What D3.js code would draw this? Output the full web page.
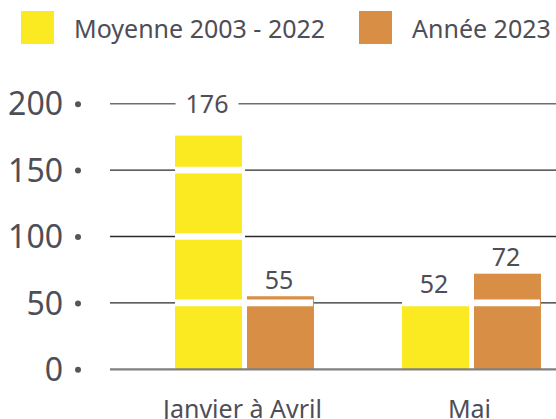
<!DOCTYPE html>
<html>
<head>
<meta charset="utf-8">
<script src="https://cdn.jsdelivr.net/npm/d3@7"></script>
<style>
    body { margin: 0; background: #fff; }
    text { font-family: "Noto Sans", sans-serif; fill: #4e4e57; }
</style>
</head>
<body>
<div id="chart"></div>
<script>
// Chart data
let categories = ["Janvier à Avril", "Mai"];
let series = ["Moyenne 2003 - 2022", "Année 2023"];
let moyenneValues = [176, 52];
let anneeValues = [55, 72];
let yTicks = [0, 50, 100, 150, 200];

let colors = ["#fbe921", "#d88e45"];

let data = categories.map((c, i) => ({
    category: c,
    values: [
        {key: series[0], value: moyenneValues[i]},
        {key: series[1], value: anneeValues[i]}
    ]
}));

let width = 556, height = 419;

let svg = d3.select("#chart").append("svg")
    .attr("width", width)
    .attr("height", height);

// Scales
let y = d3.scaleLinear()
    .domain([0, 200])
    .range([369.3, 103.7]);

let x0 = d3.scaleBand()
    .domain(categories)
    .range([131, 585])
    .paddingInner(0.388)
    .paddingOuter(0.194);

let x1 = d3.scaleBand()
    .domain(series)
    .range([0, x0.bandwidth()])
    .paddingInner(0.0694);

let color = d3.scaleOrdinal().domain(series).range(colors);

let gridLeft = 110;

// Legend
let legendX = [21, 359];
let legend = svg.selectAll(".legend")
    .data(series)
    .enter().append("g")
    .attr("class", "legend")
    .attr("transform", (d, i) => "translate(" + legendX[i] + ",11)");

legend.append("rect")
    .attr("width", 33)
    .attr("height", 33)
    .attr("fill", d => color(d));

legend.append("text")
    .attr("x", 53)
    .attr("y", 26.5)
    .style("font-size", "25px")
    .text(d => d);

// Gridlines (behind bars)
svg.append("g")
    .selectAll("line")
    .data(yTicks.filter(t => t > 0))
    .enter().append("line")
    .attr("x1", gridLeft)
    .attr("x2", width)
    .attr("y1", d => y(d))
    .attr("y2", d => y(d))
    .attr("stroke", d => d === 200 ? "#6e6e6e" : "#2a2a2a")
    .attr("stroke-width", 1.4);

// Bars
let groups = svg.selectAll(".group")
    .data(data)
    .enter().append("g")
    .attr("class", "group")
    .attr("transform", d => "translate(" + x0(d.category) + ",0)");

groups.selectAll("rect")
    .data(d => d.values)
    .enter().append("rect")
    .attr("x", d => x1(d.key))
    .attr("y", d => y(d.value))
    .attr("width", x1.bandwidth())
    .attr("height", d => y(0) - y(d.value))
    .attr("fill", d => color(d.key));

// White bands where the gridlines cross the bars
groups.each(function(g) {
    let grp = d3.select(this);
    yTicks.filter(t => t > 0).forEach(t => {
        let crossing = g.values.filter(v => v.value >= t);
        if (!crossing.length) return;
        let last = crossing[crossing.length - 1];
        let isLast = last.key === series[series.length - 1];
        grp.append("line")
            .attr("x1", x1(crossing[0].key))
            .attr("x2", x1(last.key) + x1.bandwidth() + (isLast ? -1 : 3))
            .attr("y1", y(t))
            .attr("y2", y(t))
            .attr("stroke", "#fff")
            .attr("stroke-width", 6.6);
    });
});

// Baseline
svg.append("line")
    .attr("x1", gridLeft)
    .attr("x2", width)
    .attr("y1", y(0))
    .attr("y2", y(0))
    .attr("stroke", "#808080")
    .attr("stroke-width", 2.2);

// Value labels (tall bars get their label snapped onto the top gridline)
let topTick = d3.max(yTicks);
groups.each(function(g) {
    let grp = d3.select(this);
    g.values.forEach(v => {
        let cx = x1(v.key) + x1.bandwidth() / 2 - 1.5;
        let snap = y(v.value) - y(topTick) < 40;
        let baseline = snap ? y(topTick) + 9 : y(v.value) - 7.5;
        let bg = grp.append("rect").attr("fill", "#fff");
        let t = grp.append("text")
            .attr("x", cx)
            .attr("y", baseline)
            .attr("text-anchor", "middle")
            .style("font-size", "25px")
            .text(v.value);
        let bb = t.node().getBBox();
        bg.attr("x", bb.x - 10)
            .attr("width", bb.width + 20)
            .attr("y", baseline - 20)
            .attr("height", 22);
    });
});

// Y axis: labels with a dot at each tick
let yAxis = d3.axisLeft(y)
    .tickValues(yTicks)
    .tickSize(0)
    .tickPadding(15);

let yAxisG = svg.append("g")
    .attr("transform", "translate(78,0)")
    .call(yAxis);

yAxisG.select(".domain").remove();
yAxisG.selectAll(".tick text")
    .attr("font-family", null)
    .style("font-size", "32px")
    .attr("dy", "0.35em");
yAxisG.selectAll(".tick")
    .append("circle")
    .attr("r", 3)
    .attr("fill", "#55555d");

// Category labels
svg.append("g")
    .selectAll("text")
    .data(categories)
    .enter().append("text")
    .attr("x", d => x0(d) + x0.bandwidth() / 2 - 2)
    .attr("y", 418)
    .attr("text-anchor", "middle")
    .style("font-size", "25px")
    .text(d => d);
</script>
</body>
</html>
